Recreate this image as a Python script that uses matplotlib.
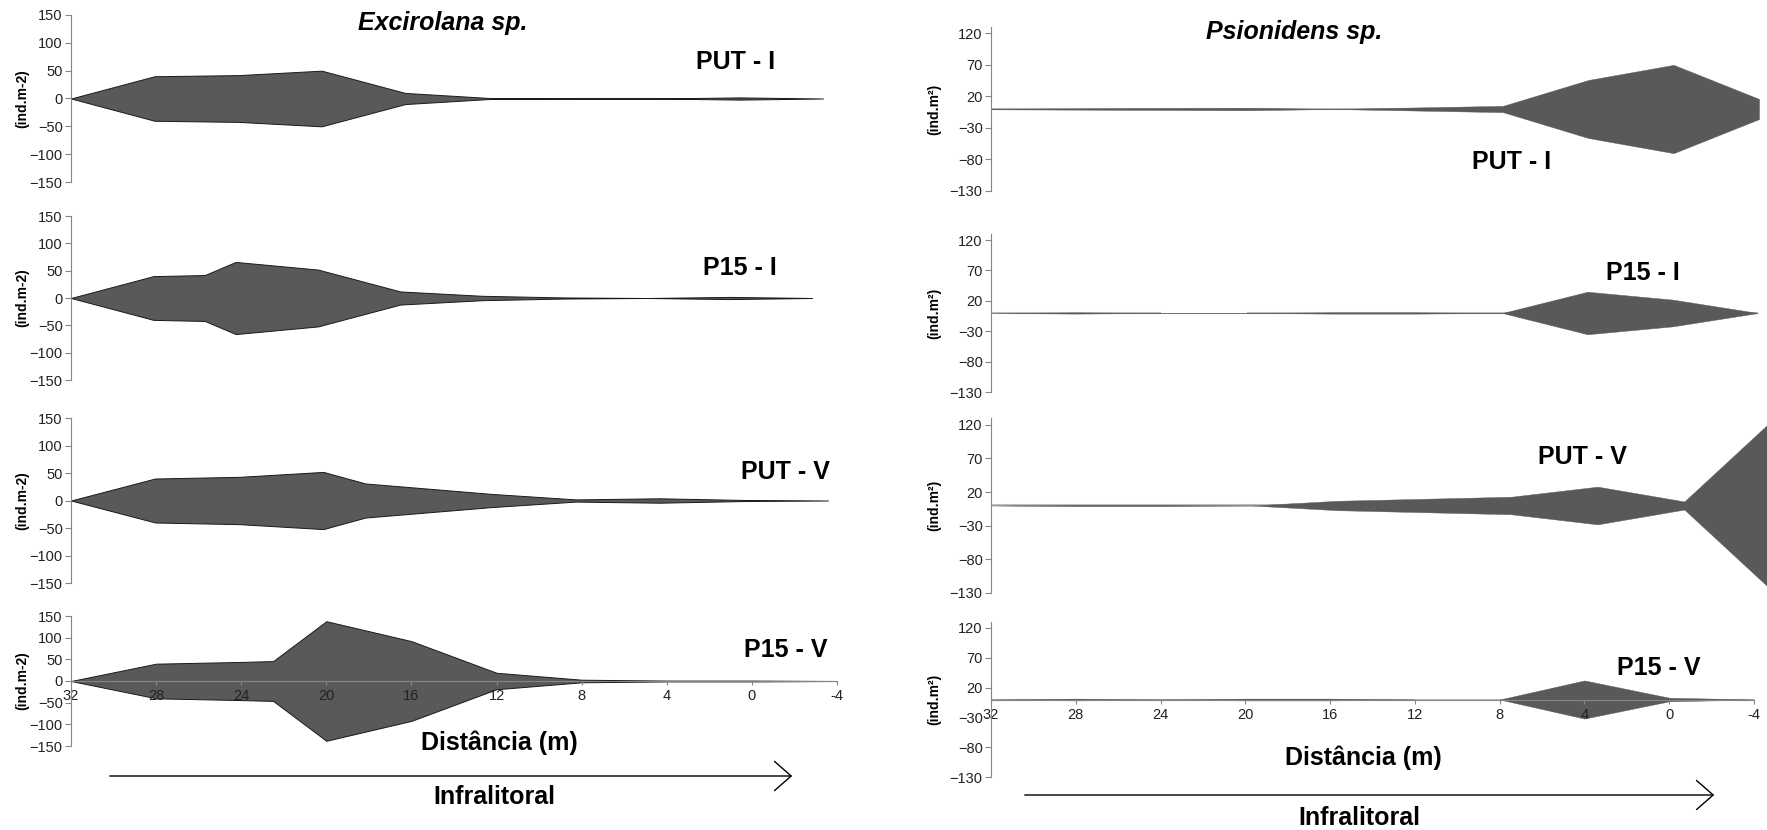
import numpy as np
import matplotlib
matplotlib.use('Agg')
import matplotlib.pyplot as plt
from matplotlib.patches import FancyArrowPatch

W, H = 1767, 830

dist = [32, 28, 24, 20, 16, 12, 8, 4, 0, -4]
x_ticks = [32, 28, 24, 20, 16, 12, 8, 4, 0, -4]

# Excirolana sp. (ind.m-2)
exc_put_i_x = dist
exc_put_i = [0, 40, 42, 50, 10, 1, 0, 0, 2, 0]
exc_p15_i_x = [32, 28, 25.5, 24, 20, 16, 12, 8, 4, 0, -4]
exc_p15_i = [0, 40, 42, 66, 52, 12, 4, 1, 0, 2, 0]
exc_put_v_x = [32, 28, 24, 20, 18, 12, 8, 4, 0, -4]
exc_put_v = [0, 40, 43, 52, 31, 12, 2, 4, 1, 0]
exc_p15_v_x = [32, 28, 24, 22.5, 20, 16, 12, 8, 4, 0, -4]
exc_p15_v = [0, 40, 44, 46, 138, 92, 19, 3, 1, 1, 0]

# Psionidens sp. (ind.m2)
psi_put_i = [0.5, 1, 1.5, 2, 0, 2.5, 5, 46, 70, 16]
psi_p15_i = [0, 1, 0, 0, 1, 1, 0, 35, 22, 0]
psi_put_v = [0, 1, 1, 0, 7, 10, 13, 28, 6, 125]
psi_p15_v = [0, 1.5, 0, 1.5, 1.5, 0, 0, 32, 3, 0]

NARROW = ['Liberation Sans Narrow', 'Liberation Sans', 'DejaVu Sans']
BOLD = ['Liberation Sans', 'DejaVu Sans']
FILL = '#595959'
AXC = '#868686'

fig = plt.figure(figsize=(W / 100, H / 100), dpi=100)


def box(x0, x1, ytop, ybot):
    return fig.add_axes([x0 / W, 1 - ybot / H, (x1 - x0) / W, (ybot - ytop) / H])


def px(x, y):
    return x / W, 1 - y / H


def setup(ax, lim, ticks, bottom):
    ax.set_xlim(32, -4)
    ax.set_ylim(-lim, lim)
    ax.set_yticks(ticks)
    for s in ['top', 'right']:
        ax.spines[s].set_visible(False)
    ax.spines['left'].set_color(AXC)
    ax.tick_params(axis='y', direction='out', length=4, color=AXC,
                   labelsize=10.5, labelcolor='#222222', pad=2)
    if bottom:
        ax.spines['bottom'].set_position(('data', 0))
        ax.spines['bottom'].set_color(AXC)
        ax.set_xticks(x_ticks)
        ax.set_xticklabels([str(t) for t in x_ticks])
        ax.tick_params(axis='x', direction='out', length=3, color=AXC,
                       labelsize=10.5, labelcolor='#222222', pad=3)
    else:
        ax.spines['bottom'].set_visible(False)
        ax.set_xticks([])
    for lab in ax.get_xticklabels() + ax.get_yticklabels():
        lab.set_family(NARROW)
    ax.patch.set_alpha(0)


def kite_left(ax, x, v):
    v = np.array(v, dtype=float)
    ax.fill_between(x, -v, v, facecolor=FILL, edgecolor='#1a1a1a', linewidth=0.7, zorder=1)


def kite_right(ax, x, v):
    v = np.array(v, dtype=float)
    for i in range(len(x) - 1):
        if max(v[i], v[i + 1]) > 0:
            ax.plot(x[i:i + 2], [0, 0], color='#bdbdbd', lw=1.5,
                    solid_capstyle='butt', zorder=0.8)
    ax.fill_between(x, -v, v, facecolor=FILL, edgecolor=FILL, linewidth=0.3, zorder=1)


# left column: Excirolana sp.
left_ticks = np.arange(-150, 151, 50)
left_boxes = [(71, 823, 15, 182), (71, 812, 216, 380), (71, 828, 418, 583), (71, 837, 616, 746)]
left_data = [(exc_put_i_x, exc_put_i), (exc_p15_i_x, exc_p15_i),
             (exc_put_v_x, exc_put_v), (exc_p15_v_x, exc_p15_v)]
for i, (b, (xx, vv)) in enumerate(zip(left_boxes, left_data)):
    ax = box(*b)
    kite_left(ax, xx, vv)
    setup(ax, 150, left_ticks, i == 3)
    fig.text(*px(22, (b[2] + b[3]) / 2), '(ind.m-2)', rotation=90, ha='center', va='center',
             fontsize=10, fontweight='bold', family=BOLD)

# right column: Psionidens sp.
right_ticks = np.arange(-130, 121, 50)
right_boxes = [(991, 1759, 27, 191), (991, 1758, 234, 392), (991, 1771, 418, 593), (991, 1754, 622, 777)]
right_data = [psi_put_i, psi_p15_i, psi_put_v, psi_p15_v]
for i, (b, vv) in enumerate(zip(right_boxes, right_data)):
    ax = box(*b)
    kite_right(ax, dist, vv)
    setup(ax, 130, right_ticks, i == 3)
    fig.text(*px(934, (b[2] + b[3]) / 2), '(ind.m\u00b2)', rotation=90, ha='center', va='center',
             fontsize=10, fontweight='bold', family=BOLD)

# panel labels
labels = [('PUT - I', 736, 62), ('P15 - I', 740, 268), ('PUT - V', 785, 472), ('P15 - V', 786, 650),
          ('PUT - I', 1512, 162), ('P15 - I', 1643, 273), ('PUT - V', 1582, 457), ('P15 - V', 1659, 668)]
for t, x, y in labels:
    fig.text(*px(x, y), t, ha='center', va='center', fontsize=18, fontweight='bold', family=BOLD)

fig.text(*px(443, 23), 'Excirolana sp.', ha='center', va='center', fontsize=18,
         fontweight='bold', style='italic', family=BOLD)
fig.text(*px(1294, 32), 'Psionidens sp.', ha='center', va='center', fontsize=18,
         fontweight='bold', style='italic', family=BOLD)

fig.text(*px(499, 743), 'Dist\u00e2ncia (m)', ha='center', va='center', fontsize=18,
         fontweight='bold', family=BOLD)
fig.text(*px(1363, 758), 'Dist\u00e2ncia (m)', ha='center', va='center', fontsize=18,
         fontweight='bold', family=BOLD)
fig.text(*px(494, 797), 'Infralitoral', ha='center', va='center', fontsize=18,
         fontweight='bold', family=BOLD)
fig.text(*px(1359, 818), 'Infralitoral', ha='center', va='center', fontsize=18,
         fontweight='bold', family=BOLD)

for x0, x1, y in [(107, 795, 776), (1022, 1717, 795)]:
    fig.add_artist(FancyArrowPatch(px(x0, y), px(x1, y), transform=fig.transFigure,
                                   arrowstyle='->,head_length=0.8,head_width=0.7',
                                   mutation_scale=15, lw=1, color='black'))

fig.savefig('out.png', dpi=100, facecolor='white')
